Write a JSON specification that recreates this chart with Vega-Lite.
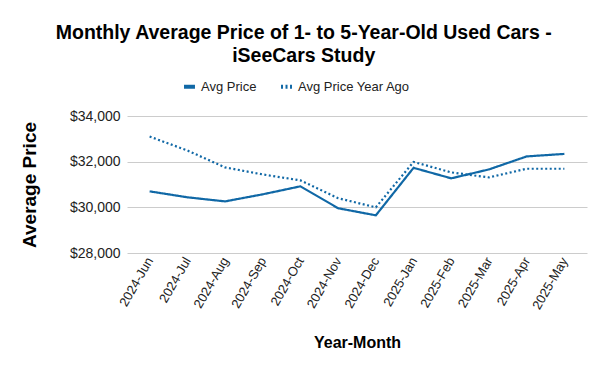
{
  "$schema": "https://vega.github.io/schema/vega-lite/v6.json",
  "width": 460,
  "height": 137,
  "padding": {"left": 20, "top": 22, "right": 10, "bottom": 5},
  "background": "white",
  "config": {
    "font": "Liberation Sans",
    "view": {"stroke": null}
  },
  "title": {
    "text": ["Monthly Average Price of 1- to 5-Year-Old Used Cars -", "iSeeCars Study"],
    "fontSize": 19.5,
    "fontWeight": "bold",
    "color": "#000000",
    "anchor": "middle",
    "frame": "bounds",
    "lineHeight": 23,
    "offset": 13
  },
  "data": {
    "values": [
      {"month": "2024-Jun", "series": "Avg Price", "price": 30700},
      {"month": "2024-Jul", "series": "Avg Price", "price": 30440},
      {"month": "2024-Aug", "series": "Avg Price", "price": 30260},
      {"month": "2024-Sep", "series": "Avg Price", "price": 30570},
      {"month": "2024-Oct", "series": "Avg Price", "price": 30920},
      {"month": "2024-Nov", "series": "Avg Price", "price": 29960},
      {"month": "2024-Dec", "series": "Avg Price", "price": 29650},
      {"month": "2025-Jan", "series": "Avg Price", "price": 31730},
      {"month": "2025-Feb", "series": "Avg Price", "price": 31270},
      {"month": "2025-Mar", "series": "Avg Price", "price": 31660},
      {"month": "2025-Apr", "series": "Avg Price", "price": 32230},
      {"month": "2025-May", "series": "Avg Price", "price": 32340},
      {"month": "2024-Jun", "series": "Avg Price Year Ago", "price": 33100},
      {"month": "2024-Jul", "series": "Avg Price Year Ago", "price": 32490},
      {"month": "2024-Aug", "series": "Avg Price Year Ago", "price": 31750},
      {"month": "2024-Sep", "series": "Avg Price Year Ago", "price": 31440},
      {"month": "2024-Oct", "series": "Avg Price Year Ago", "price": 31180},
      {"month": "2024-Nov", "series": "Avg Price Year Ago", "price": 30400},
      {"month": "2024-Dec", "series": "Avg Price Year Ago", "price": 30000},
      {"month": "2025-Jan", "series": "Avg Price Year Ago", "price": 31990},
      {"month": "2025-Feb", "series": "Avg Price Year Ago", "price": 31530},
      {"month": "2025-Mar", "series": "Avg Price Year Ago", "price": 31310},
      {"month": "2025-Apr", "series": "Avg Price Year Ago", "price": 31690},
      {"month": "2025-May", "series": "Avg Price Year Ago", "price": 31690}
    ]
  },
  "mark": {"type": "line", "strokeWidth": 2.2, "color": "#1068a6"},
  "encoding": {
    "x": {
      "field": "month",
      "type": "ordinal",
      "sort": null,
      "scale": {"type": "point", "padding": 0.6},
      "axis": {
        "title": "Year-Month",
        "titleFontSize": 16,
        "titleFontWeight": "bold",
        "titleColor": "#000000",
        "titlePadding": 23,
        "labelAngle": -60,
        "labelAlign": "right",
        "labelBaseline": "middle",
        "labelFontSize": 13,
        "labelColor": "#222222",
        "labelPadding": 5,
        "domain": false,
        "ticks": false,
        "grid": false
      }
    },
    "y": {
      "field": "price",
      "type": "quantitative",
      "scale": {"domain": [28000, 34000], "nice": false, "zero": false},
      "axis": {
        "title": "Average Price",
        "titleFontSize": 19,
        "titleFontWeight": "bold",
        "titleColor": "#000000",
        "titlePadding": 30,
        "values": [28000, 30000, 32000, 34000],
        "format": "$,.0f",
        "labelFontSize": 14,
        "labelColor": "#222222",
        "labelPadding": 7,
        "domain": false,
        "ticks": false,
        "gridColor": "#cccccc"
      }
    },
    "strokeDash": {
      "field": "series",
      "type": "nominal",
      "scale": {"domain": ["Avg Price", "Avg Price Year Ago"], "range": [[1, 0], [2, 2.5]]},
      "legend": {
        "title": null,
        "orient": "none",
        "legendX": 55,
        "legendY": -37,
        "direction": "horizontal",
        "labelFontSize": 13,
        "labelColor": "#222222",
        "symbolType": "stroke",
        "symbolStrokeColor": "#1068a6",
        "symbolStrokeWidth": 4,
        "symbolSize": 120,
        "columnPadding": 16
      }
    }
  }
}
